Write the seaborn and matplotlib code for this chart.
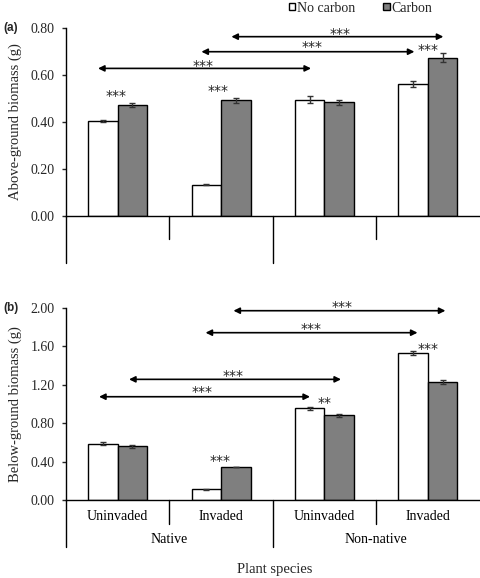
import numpy as np
import pandas as pd
import matplotlib
matplotlib.use("Agg")
import matplotlib.pyplot as plt
from matplotlib.patches import Patch
import seaborn as sns

# ---- data ----
groups = ["Native\nUninvaded", "Native\nInvaded", "Non-native\nUninvaded", "Non-native\nInvaded"]
inner_labels = ["Uninvaded", "Invaded", "Uninvaded", "Invaded"]
outer_labels = ["Native", "Non-native"]
treatments = ["No carbon", "Carbon"]

above_nocarbon = [0.404, 0.134, 0.495, 0.560]
above_carbon = [0.473, 0.492, 0.483, 0.674]
above_nocarbon_se = [0.005, 0.003, 0.014, 0.013]
above_carbon_se = [0.008, 0.011, 0.010, 0.018]

below_nocarbon = [0.587, 0.111, 0.955, 1.535]
below_carbon = [0.559, 0.344, 0.882, 1.233]
below_nocarbon_se = [0.015, 0.006, 0.015, 0.020]
below_carbon_se = [0.015, 0.005, 0.018, 0.022]

# significance annotations
above_arrows = [(-0.19, 1.87, 0.628), (0.81, 2.87, 0.699), (1.10, 3.15, 0.763)]
above_arrow_stars = [(0.83, 0.658, "***"), (1.88, 0.736, "***"), (2.15, 0.793, "***")]
above_bar_stars = [(-0.02, 0.530, "***"), (0.97, 0.548, "***"), (3.0, 0.726, "***")]

below_arrows = [(-0.18, 1.86, 1.076), (0.11, 2.16, 1.257), (0.85, 2.90, 1.743), (1.12, 3.17, 1.972)]
below_arrow_stars = [(0.82, 1.167, "***"), (1.12, 1.337, "***"), (1.87, 1.823, "***"), (2.17, 2.050, "***")]
below_bar_stars = [(0.99, 0.45, "***"), (2.0, 1.05, "**"), (3.0, 1.62, "***")]

sns.set_style("white")
plt.rcParams["font.family"] = ["Liberation Serif", "DejaVu Serif"]

fig = plt.figure(figsize=(4.8, 5.78), dpi=100)
ax_a = fig.add_axes([0.1375, 0.6263, 0.8615, 0.3253])
ax_b = fig.add_axes([0.1375, 0.1349, 0.8615, 0.3322])

palette = {"No carbon": "white", "Carbon": "#7f7f7f"}


def draw_panel(ax, nc, c, nc_se, c_se, ylim, yticks, ylabel, arrows, arrow_stars,
               bar_stars, label_color, panel_letter):
    df = pd.DataFrame({
        "group": groups * 2,
        "treatment": ["No carbon"] * 4 + ["Carbon"] * 4,
        "value": list(nc) + list(c),
        "se": list(nc_se) + list(c_se),
    })
    sns.barplot(data=df, x="group", y="value", hue="treatment", order=groups,
                hue_order=treatments, palette=palette, edgecolor="black",
                linewidth=1.0, width=0.57, errorbar=None, legend=False, ax=ax)
    patches = [p for p in ax.patches if p.get_height() > 0]
    for p in patches:
        xc = p.get_x() + p.get_width() / 2
        h = p.get_height()
        row = df[np.isclose(df["value"], h)].iloc[0]
        ax.errorbar(xc, h, yerr=row["se"], color="#333333", capsize=2.5,
                    elinewidth=1.0, capthick=1.0, fmt="none", zorder=5)
    ax.set_xlim(-0.5, 3.5)
    ax.set_ylim(*ylim)
    ax.set_yticks(yticks)
    ax.set_yticklabels([f"{t:.2f}" for t in yticks], fontsize=10)
    ax.set_ylabel(ylabel, fontsize=10.5, labelpad=6)
    ax.set_xlabel("")
    ax.set_xticks([])
    ax.tick_params(axis="y", direction="out", length=3, width=1, left=True, pad=5)
    for s in ["top", "right"]:
        ax.spines[s].set_visible(False)
    for s in ["left", "bottom"]:
        ax.spines[s].set_linewidth(1.0)
        ax.spines[s].set_color("black")

    for x1, x2, y in arrows:
        ax.annotate("", xy=(x2, y), xytext=(x1, y), annotation_clip=False,
                    arrowprops=dict(arrowstyle="<|-|>", color="black", lw=1.2,
                                    mutation_scale=9, shrinkA=0, shrinkB=0))
    for x, y, t in arrow_stars + bar_stars:
        ax.annotate(t, (x, y), xytext=(0, -5.9), textcoords="offset points",
                    ha="center", va="baseline", fontsize=10, annotation_clip=False,
                    family=["DejaVu Sans"], color="#222222")

    trans = ax.transAxes
    h_ax = ax.get_position().height * fig.get_figheight() * fig.dpi
    inner = -23.5 / h_ax
    outer = -47 / h_ax
    ax.plot([0, 0], [0, outer], transform=trans, color="black", lw=1.0, clip_on=False)
    for xf in [0.25, 0.75]:
        ax.plot([xf, xf], [0, inner], transform=trans, color="black", lw=1.0, clip_on=False)
    ax.plot([0.5, 0.5], [0, outer], transform=trans, color="black", lw=1.0, clip_on=False)
    for i, lab in enumerate(inner_labels):
        ax.text(0.125 + 0.25 * i, -16 / h_ax, lab, transform=trans, ha="center",
                va="center", fontsize=10, color=label_color)
    for i, lab in enumerate(outer_labels):
        ax.text(0.25 + 0.5 * i, -39 / h_ax, lab, transform=trans,
                ha="center", va="center", fontsize=10, color=label_color)
    fig.text(0.008, ax.get_position().y1, panel_letter, ha="left", va="center",
             fontsize=8.5, fontweight="bold", family=["Liberation Sans", "DejaVu Sans"])


draw_panel(ax_a, above_nocarbon, above_carbon, above_nocarbon_se, above_carbon_se,
           (0, 0.80), [0.0, 0.2, 0.4, 0.6, 0.8], "Above-ground biomass (g)",
           above_arrows, above_arrow_stars, above_bar_stars, "white", "(a)")
draw_panel(ax_b, below_nocarbon, below_carbon, below_nocarbon_se, below_carbon_se,
           (0, 2.00), [0.0, 0.4, 0.8, 1.2, 1.6, 2.0], "Below-ground biomass (g)",
           below_arrows, below_arrow_stars, below_bar_stars, "black", "(b)")

fig.text(0.573, 1 - 570 / 578, "Plant species", ha="center", va="center", fontsize=10.5)

handles = [Patch(facecolor=palette[t], edgecolor="black", linewidth=1.0, label=t)
           for t in treatments]
fig.legend(handles=handles, loc="upper left", bbox_to_anchor=(289 / 480, 1 - 1.5 / 578),
           ncol=2, frameon=False, fontsize=10, handlelength=0.45, handleheight=0.45,
           handletextpad=0.15, columnspacing=2.0, borderpad=0, borderaxespad=0)

fig.savefig("out.png", dpi=100)
